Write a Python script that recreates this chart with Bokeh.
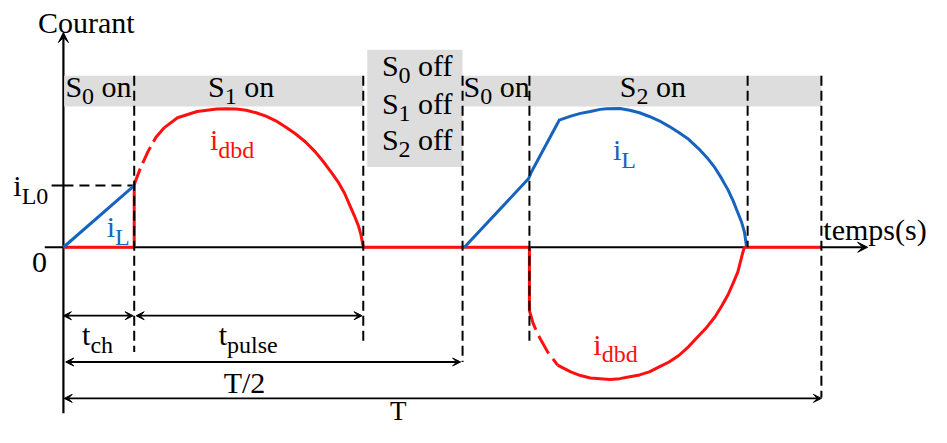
from bokeh.plotting import figure
from bokeh.models import ColumnDataSource, Arrow, VeeHead, Range1d
from bokeh.embed import file_html
from bokeh.resources import INLINE
from bokeh.core.properties import value

# ---------------- data (time in % of period T, current relative to i_L0) ----------------
t_events = [0.0, 9.34, 39.56, 52.66, 61.48, 90.27, 100.0]
event_bottom = [None, -1.70, -1.55, -1.86, -1.52, 0.0, -2.44]
i_L0 = 1.0

# inductor current, first half period (charging)
iL1_t = [0.0, 9.34]
iL1_i = [0.0, 1.0]
# DBD current, first half period
idbd1_zero_t = [0.0, 9.34]
idbd1_jump_t = [9.34, 9.34]
idbd1_jump_i = [0.0, 1.0]
idbd1_dash_t = [9.34, 9.47, 10.12, 11.15, 12.19, 13.32]
idbd1_dash_i = [1.0, 1.06, 1.27, 1.55, 1.78, 1.94]
idbd1_arc_t = [13.32, 15.05, 17.64, 20.23, 21.53, 22.83, 24.12, 25.42, 26.72, 28.02, 29.31, 30.61,
               31.91, 33.20, 34.28, 35.37, 36.23, 37.09, 37.74, 38.39, 38.91, 39.26, 39.56]
idbd1_arc_i = [1.94, 2.10, 2.20, 2.24, 2.245, 2.24, 2.22, 2.18, 2.125, 2.05, 1.95, 1.84,
               1.71, 1.55, 1.39, 1.21, 1.06, 0.875, 0.69, 0.51, 0.35, 0.20, 0.0]
idbd_off_t = [39.56, 61.48]

# inductor current, second half period
iL2_t = [52.9, 61.35, 61.74, 65.41, 66.93, 68.22, 69.52, 70.82, 71.68, 73.41, 74.71, 76.01, 77.30, 78.60,
         79.90, 81.19, 82.49, 83.79, 84.86, 85.95, 86.81, 87.68, 88.33, 88.98, 89.49, 89.84, 90.14]
iL2_i = [0.0, 1.11, 1.22, 2.06, 2.125, 2.17, 2.20, 2.235, 2.245, 2.25, 2.22, 2.18, 2.12, 2.05,
         1.96, 1.86, 1.75, 1.60, 1.46, 1.29, 1.12, 0.93, 0.76, 0.56, 0.40, 0.25, 0.0]
# DBD current, second half period
idbd2_jump_t = [61.48, 61.48]
idbd2_jump_i = [0.0, -1.03]
idbd2_dash_t = [61.48, 61.96, 62.61, 63.90, 65.20]
idbd2_dash_i = [-1.03, -1.23, -1.42, -1.70, -1.91]
idbd2_arc_t = [65.20, 66.93, 68.22, 69.52, 70.82, 72.11, 73.41, 74.71, 76.01, 77.30, 78.60, 79.90,
               81.19, 82.49, 83.79, 84.86, 85.95, 86.81, 87.68, 88.33, 88.98, 89.62, 89.84]
idbd2_arc_i = [-1.91, -2.02, -2.08, -2.12, -2.13, -2.145, -2.13, -2.10, -2.07, -2.02, -1.94, -1.86,
               -1.755, -1.61, -1.44, -1.30, -1.13, -0.96, -0.77, -0.59, -0.40, -0.09, 0.0]
idbd2_zero_t = [89.84, 100.0]

# switch-state bands
band_left = [0.1, 52.66]
band_right = [39.56, 100.0]
band_bottom, band_top = 2.28, 2.78
box_left, box_right, box_bottom, box_top = 40.08, 52.66, 1.30, 3.20

# dimension arrows
dim_names = ["t_ch", "t_pulse", "T/2", "T"]
dim_start = [0.0, 9.6, 0.3, 0.1]
dim_end = [9.2, 39.4, 52.4, 100.0]
dim_level = [-1.11, -1.11, -1.86, -2.45]

# ---------------- styling ----------------
RED = "#ff1010"
BLUE = "#1764bf"
GRAY = "#dddddd"
FONT = "Liberation Serif"
MAIN, SUB = 30, 24

p = figure(width=931, height=427, x_range=Range1d(-8.301, 114.527), y_range=Range1d(-2.922, 4.0),
           output_backend="svg", toolbar_location=None, x_axis_type=None, y_axis_type=None,
           min_border=0, outline_line_color=None, background_fill_color="white")

# bands
p.quad(left=band_left, right=band_right, bottom=band_bottom, top=band_top, fill_color=GRAY, line_color=None)
p.quad(left=[box_left], right=[box_right], bottom=[box_bottom], top=[box_top], fill_color=GRAY, line_color=None)

# axes (underlay so the red zero segments sit on top)
p.add_layout(Arrow(end=VeeHead(size=10, fill_color="black", line_color="black", line_width=1),
                   x_start=0, y_start=-2.69, x_end=0, y_end=3.48, line_width=2.2, level="underlay"))
p.add_layout(Arrow(end=VeeHead(size=10, fill_color="black", line_color="black", line_width=1),
                   x_start=-2.46, y_start=0, x_end=106.1, y_end=0, line_width=2.2, level="underlay"))

# i_L0 marker
p.line([-1.56, 0.0], [i_L0, i_L0], line_color="black", line_width=2)
p.line([0.0, t_events[1]], [i_L0, i_L0], line_color="black", line_width=2, line_dash="10 6")

# curves
LW = 3
p.line(idbd1_zero_t, [0, 0], line_color=RED, line_width=LW)
p.line(idbd1_jump_t, idbd1_jump_i, line_color=RED, line_width=LW)
p.line(idbd1_dash_t, idbd1_dash_i, line_color=RED, line_width=LW, line_dash="18 6")
p.line(idbd1_arc_t, idbd1_arc_i, line_color=RED, line_width=LW, line_join="round")
p.line(idbd_off_t, [0, 0], line_color=RED, line_width=LW)
p.line(iL1_t, iL1_i, line_color=BLUE, line_width=LW)
p.line(iL2_t, iL2_i, line_color=BLUE, line_width=LW, line_join="round")
p.line(idbd2_jump_t, idbd2_jump_i, line_color=RED, line_width=LW)
p.line(idbd2_dash_t, idbd2_dash_i, line_color=RED, line_width=LW, line_dash="20 7")
p.line(idbd2_arc_t, idbd2_arc_i, line_color=RED, line_width=LW, line_join="round")
p.line(idbd2_zero_t, [0, 0], line_color=RED, line_width=LW)

# dashed event lines
vx = t_events[1:]
p.segment(x0=vx, y0=[band_top] * len(vx), x1=vx, y1=event_bottom[1:],
          line_color="black", line_width=2, line_dash="10 5")

# dimension arrows
for a, b, lv in zip(dim_start, dim_end, dim_level):
    p.add_layout(Arrow(start=VeeHead(size=8, fill_color="black", line_color="black", line_width=1),
                       end=VeeHead(size=8, fill_color="black", line_color="black", line_width=1),
                       x_start=a, y_start=lv, x_end=b, y_end=lv, line_width=1.8))

# ---------------- texts (composite with subscripts) ----------------
W = {'S': 0.556, '0': 0.5, '1': 0.5, '2': 0.5, ' ': 0.25, 'o': 0.5, 'n': 0.5, 'f': 0.333, 'i': 0.278,
     'L': 0.611, 'd': 0.5, 'b': 0.5, 't': 0.278, 'c': 0.444, 'h': 0.5, 'p': 0.5, 'u': 0.5, 'l': 0.278,
     's': 0.389, 'e': 0.444, 'T': 0.611, '/': 0.278, 'C': 0.667, 'r': 0.333, 'a': 0.444, 'm': 0.778,
     '(': 0.333, ')': 0.333}

# (x, y, colour, parts, main font size)
labels = [
    (-3.37, 3.48, "black", [("Courant", "m")], MAIN),
    (100.26, 0.125, "black", [("temps(s)", "m")], MAIN),
    (-4.15, -0.41, "black", [("0", "m")], MAIN),
    (-6.61, 0.84, "black", [("i", "m"), ("L0", "s")], MAIN),
    (0.26, 2.44, "black", [("S", "m"), ("0", "s"), (" on", "m")], MAIN),
    (19.07, 2.44, "black", [("S", "m"), ("1", "s"), (" on", "m")], MAIN),
    (42.02, 2.78, "black", [("S", "m"), ("0", "s"), (" off", "m")], MAIN),
    (42.02, 2.17, "black", [("S", "m"), ("1", "s"), (" off", "m")], MAIN),
    (42.02, 1.58, "black", [("S", "m"), ("2", "s"), (" off", "m")], MAIN),
    (52.79, 2.44, "black", [("S", "m"), ("0", "s"), (" on", "m")], MAIN),
    (73.41, 2.44, "black", [("S", "m"), ("2", "s"), (" on", "m")], MAIN),
    (19.33, 1.58, RED, [("i", "m"), ("dbd", "s")], MAIN),
    (5.71, 0.17, BLUE, [("i", "m"), ("L", "s")], MAIN),
    (72.50, 1.42, BLUE, [("i", "m"), ("L", "s")], MAIN),
    (69.91, -1.73, RED, [("i", "m"), ("dbd", "s")], MAIN),
    (2.46, -1.58, "black", [("t", "m"), ("ch", "s")], MAIN),
    (20.49, -1.58, "black", [("t", "m"), ("pulse", "s")], MAIN),
    (21.14, -2.36, "black", [("T/2", "m")], MAIN),
    (43.1, -2.80, "black", [("T", "m")], 27),
]

rows = dict(x=[], y=[], text=[], xo=[], yo=[], size=[], color=[])
for x, y, color, parts, msize in labels:
    off = 0.0
    for txt, kind in parts:
        size = SUB if kind == "s" else msize
        if txt.startswith(" "):
            off += W[' '] * size
            txt = txt.strip()
        rows["x"].append(x)
        rows["y"].append(y)
        rows["text"].append(txt)
        rows["xo"].append(off)
        rows["yo"].append((8 if kind == "s" else 0) - 0.33 * size)
        rows["size"].append(f"{size}px")
        rows["color"].append(color)
        off += sum(W.get(c, 0.5) for c in txt) * size

p.text(x="x", y="y", text="text", x_offset="xo", y_offset="yo", text_font_size="size",
       text_color="color", text_font=value(FONT), text_baseline="alphabetic", text_align="left",
       source=ColumnDataSource(rows))

open("out.html", "w").write(file_html(p, INLINE))
